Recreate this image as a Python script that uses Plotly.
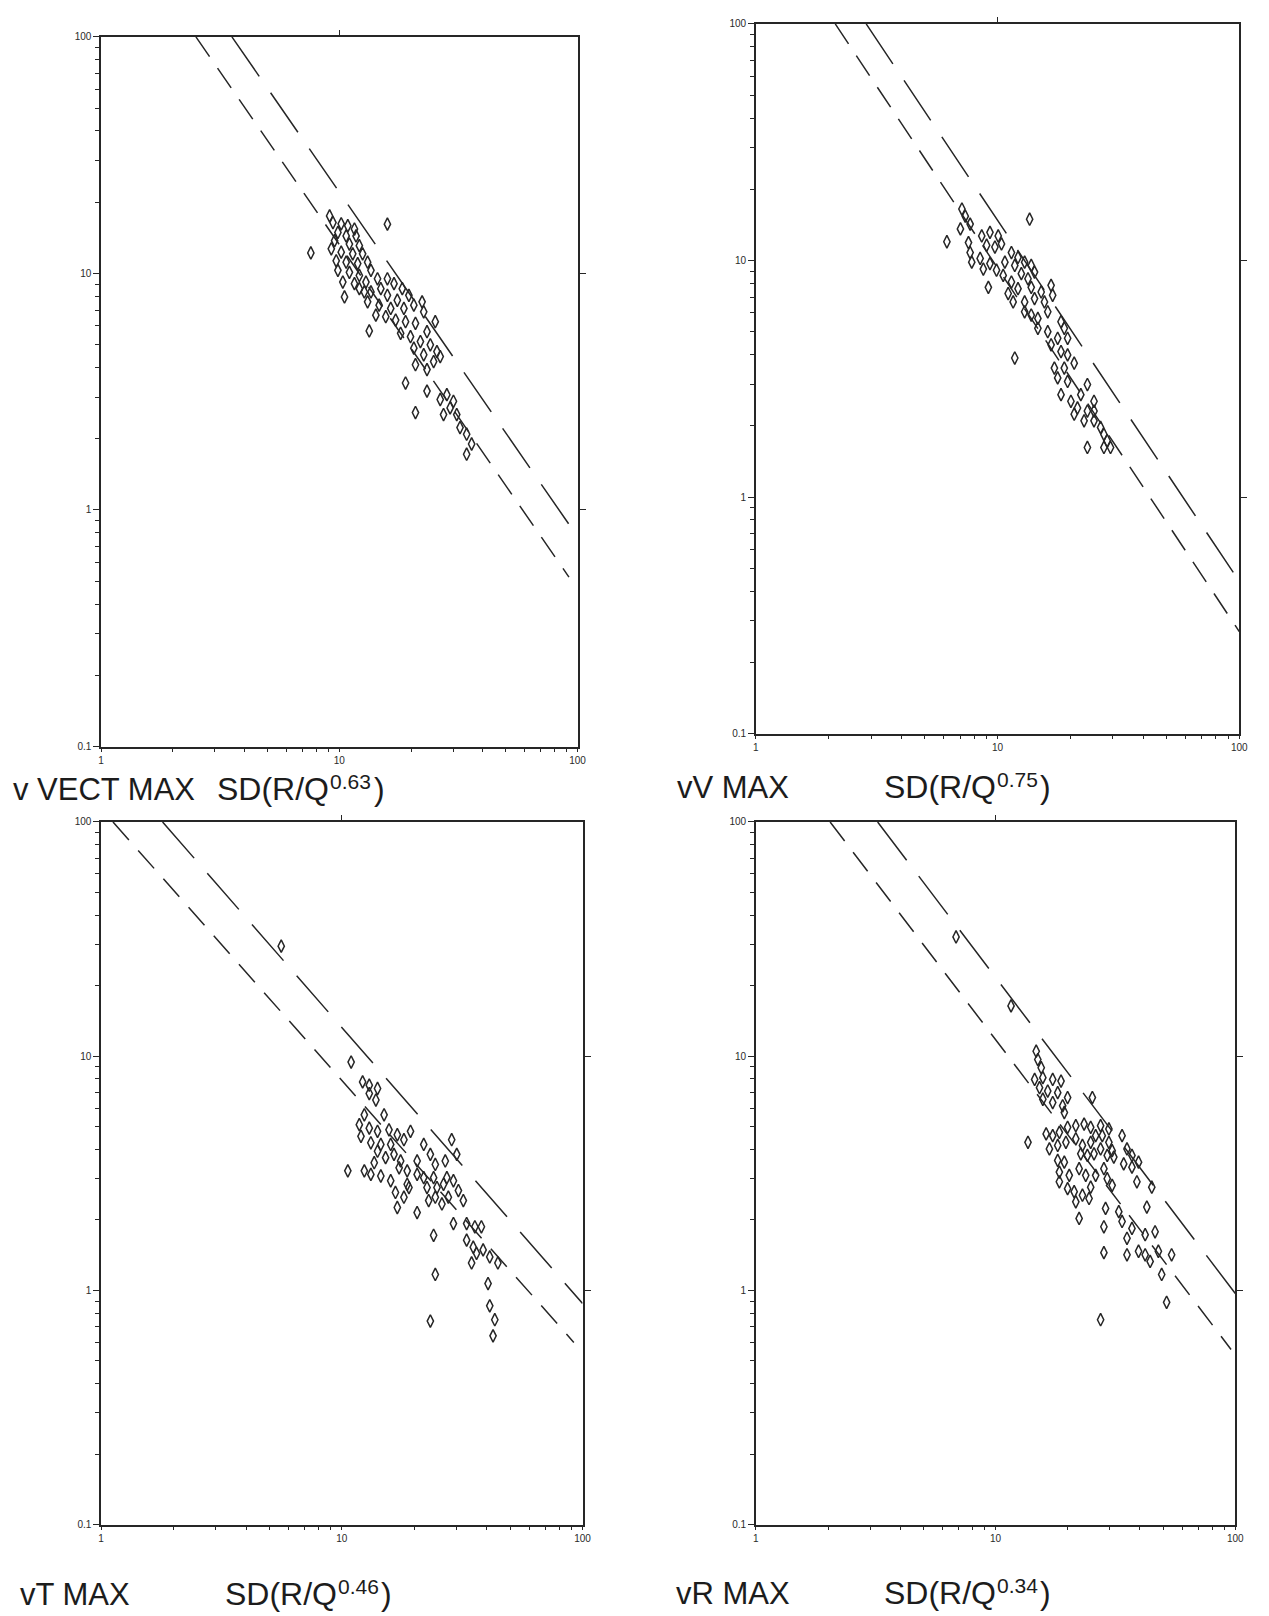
import plotly.graph_objects as go

W, H = 1269, 1616

# ---------------- data ----------------
# Panel 1 : v VECT MAX vs SD(R/Q^0.63)
vvect_sd = [9.10, 9.40, 10.18, 10.85, 11.57, 9.86, 10.68, 11.75, 9.55, 11.02,
            12.13, 9.25, 10.18, 11.38, 12.52, 9.70, 10.68, 11.94, 13.14, 9.86,
            11.02, 12.13, 13.57, 10.34, 11.57, 12.93, 14.46, 10.51, 12.13, 13.57,
            14.93, 15.91, 16.96, 18.37, 19.58, 15.91, 17.51, 13.14, 14.69, 16.43,
            18.66, 20.54, 22.25, 22.60, 15.66, 17.23, 18.96, 20.87, 23.33, 25.27,
            18.08, 19.89, 21.89, 24.09, 25.68, 20.54, 22.60, 24.87, 26.51, 20.87,
            23.33, 18.96, 23.33, 26.51, 28.26, 30.12, 29.17, 27.37, 31.10, 20.87,
            32.10, 34.22, 35.91, 34.22, 13.35, 7.59, 15.91, 14.23, 12.73]
vvect_v = [17.5, 16.4, 16.2, 15.9, 15.4, 14.9, 14.4, 14.4, 13.75, 13.3,
           13.1, 12.7, 12.3, 12.1, 12.1, 11.3, 11.15, 11.0, 11.15, 10.3,
           10.1, 9.8, 10.3, 9.19, 9.05, 9.19, 9.49, 7.95, 8.62, 8.35,
           8.62, 9.49, 9.05, 8.62, 8.08, 8.08, 7.70, 7.58, 7.34, 7.11,
           7.11, 7.34, 7.58, 6.88, 6.56, 6.35, 6.25, 6.15, 5.67, 6.25,
           5.58, 5.40, 5.15, 4.99, 4.67, 4.83, 4.53, 4.24, 4.45, 4.11,
           3.92, 3.44, 3.18, 2.93, 3.07, 2.88, 2.70, 2.53, 2.53, 2.58,
           2.23, 2.09, 1.90, 1.72, 5.71, 12.2, 16.15, 6.66, 8.35]
vvect_hi_x, vvect_hi_y = [3.54, 100], [100, 0.77]
vvect_lo_x, vvect_lo_y = [2.5, 92], [100, 0.52]

# Panel 2 : vV MAX vs SD(R/Q^0.75)
vv_sd = [13.57, 6.17, 7.12, 7.35, 7.70, 7.02, 7.58, 7.70, 7.82, 8.60,
         9.30, 10.06, 9.01, 9.75, 10.38, 8.47, 9.30, 8.73, 10.72, 9.16,
         9.90, 10.55, 11.41, 12.15, 12.94, 13.78, 11.78, 12.54, 13.36, 14.22,
         11.41, 11.06, 12.15, 13.78, 15.15, 16.65, 16.90, 11.60, 12.94, 14.22,
         15.63, 12.94, 13.78, 14.68, 16.13, 18.30, 18.88, 14.68, 16.13, 17.73,
         19.49, 16.65, 18.30, 19.49, 11.78, 17.18, 18.88, 20.75, 17.73, 19.49,
         18.30, 20.11, 22.10, 23.53, 21.41, 23.53, 25.06, 22.80, 25.06, 26.68,
         27.54, 28.41, 29.33, 27.54, 23.53, 25.06, 20.75]
vv_v = [14.95, 12.0, 16.5, 15.4, 14.25, 13.6, 11.9, 10.8, 9.84, 12.7,
        13.15, 12.7, 11.6, 11.4, 11.75, 10.2, 9.7, 9.2, 9.84, 7.7,
        9.1, 8.65, 10.8, 10.3, 9.84, 9.53, 9.53, 8.8, 8.37, 8.93,
        8.11, 7.25, 7.6, 7.7, 7.36, 7.85, 7.13, 6.68, 6.68, 6.9,
        6.68, 6.07, 5.88, 5.69, 6.07, 5.51, 5.17, 5.17, 5.0, 4.69,
        4.69, 4.40, 4.12, 3.99, 3.87, 3.51, 3.51, 3.68, 3.19, 3.08,
        2.71, 2.54, 2.71, 2.99, 2.38, 2.31, 2.54, 2.10, 2.10, 1.97,
        1.84, 1.73, 1.62, 1.62, 1.62, 2.31, 2.24]
vv_hi_x, vv_hi_y = [2.86, 100], [100, 0.44]
vv_lo_x, vv_lo_y = [2.13, 100], [100, 0.27]

# Panel 3 : vT MAX vs SD(R/Q^0.46)
vt_sd = [5.6, 10.93, 12.20, 13.0, 14.07, 13.0, 13.85, 14.98, 12.40, 11.82,
         13.0, 12.01, 14.07, 15.7, 17.0, 13.2, 14.52, 15.96, 18.11, 19.29,
         14.07, 15.2, 16.47, 17.55, 13.63, 10.59, 12.40, 13.20, 14.52, 15.96,
         17.3, 18.69, 20.55, 21.89, 23.32, 24.45, 26.9, 28.6, 30.02, 20.55,
         21.89, 19.0, 18.11, 17.0, 20.55, 22.59, 24.06, 24.85, 26.45, 27.31,
         29.08, 30.5, 22.95, 24.45, 26.05, 27.7, 31.97, 29.08, 33.0, 35.7,
         38.0, 33.0, 35.15, 36.28, 38.64, 34.6, 41.16, 44.5, 24.06, 24.45,
         40.5, 41.16, 43.2, 42.48, 23.32, 16.7, 18.69]
vt_v = [29.5, 9.44, 7.77, 7.52, 7.28, 6.93, 6.50, 5.62, 5.62, 5.10,
        4.93, 4.55, 4.78, 4.85, 4.62, 4.27, 4.20, 4.20, 4.40, 4.78,
        3.93, 3.69, 3.81, 3.57, 3.51, 3.24, 3.24, 3.13, 3.08, 2.94,
        3.34, 3.24, 3.57, 4.20, 3.81, 3.45, 3.57, 4.40, 3.81, 3.13,
        3.03, 2.75, 2.50, 2.26, 2.15, 2.75, 3.03, 2.75, 2.84, 3.03,
        2.94, 2.67, 2.42, 2.50, 2.34, 2.50, 2.42, 1.93, 1.93, 1.87,
        1.87, 1.64, 1.53, 1.44, 1.49, 1.31, 1.39, 1.31, 1.72, 1.17,
        1.07, 0.86, 0.75, 0.64, 0.74, 2.62, 2.84]
vt_hi_x, vt_hi_y = [1.8, 100], [100, 0.88]
vt_lo_x, vt_lo_y = [1.12, 92], [100, 0.60]

# Panel 4 : vR MAX vs SD(R/Q^0.34)
vr_sd = [6.84, 11.6, 14.77, 15.0, 15.5, 14.55, 15.74, 17.31, 18.75, 15.25,
         16.5, 18.16, 19.97, 15.74, 17.31, 19.04, 19.35, 25.33, 13.65, 16.25,
         17.31, 18.45, 19.97, 21.61, 23.4, 24.93, 27.42, 29.69, 16.77, 18.16,
         19.65, 21.61, 23.03, 24.93, 26.15, 27.86, 29.69, 30.64, 27.42, 29.22,
         31.13, 25.74, 24.15, 22.67, 18.16, 19.35, 18.45, 20.29, 22.31, 23.77,
         18.45, 19.97, 21.27, 23.03, 24.93, 21.61, 22.31, 24.54, 26.15, 28.3,
         29.22, 30.64, 33.70, 35.33, 37.06, 39.48, 34.23, 37.06, 38.86, 44.83,
         42.75, 28.76, 28.3, 32.65, 33.70, 35.33, 37.06, 42.07, 46.27, 39.48,
         42.07, 44.13, 47.76, 54.23, 35.33, 28.3, 49.3, 51.7, 27.42]
vr_v = [32.3, 16.4, 10.5, 9.68, 8.93, 7.96, 8.1, 7.96, 7.83, 7.34,
        7.1, 6.99, 6.66, 6.55, 6.34, 6.14, 5.75, 6.66, 4.29, 4.66,
        4.58, 4.73, 4.97, 5.05, 5.13, 4.97, 5.05, 4.89, 4.02, 4.16,
        4.29, 4.44, 4.16, 4.29, 4.58, 4.58, 4.29, 3.95, 4.02, 3.77,
        3.71, 3.83, 3.77, 3.83, 3.59, 3.53, 3.20, 3.10, 3.31, 3.10,
        2.91, 2.72, 2.64, 2.55, 2.76, 2.39, 2.03, 2.47, 3.10, 3.31,
        3.00, 2.81, 4.58, 4.02, 3.77, 3.53, 3.47, 3.36, 2.91, 2.76,
        2.27, 2.24, 1.87, 2.17, 1.97, 1.67, 1.84, 1.73, 1.78, 1.47,
        1.42, 1.33, 1.47, 1.42, 1.42, 1.45, 1.17, 0.89, 0.75]
vr_hi_x, vr_hi_y = [3.22, 100], [100, 0.97]
vr_lo_x, vr_lo_y = [2.04, 96], [100, 0.56]

x_ticks = [1, 10, 100]
x_ticktext = ["1", "10", "100"]
y_ticks = [0.1, 1, 10, 100]
y_ticktext = ["0.1", "1", "10", "100"]
x_minor = [m * d for d in (1, 10) for m in range(2, 10)]
y_minor = [m * d for d in (0.1, 1, 10) for m in range(2, 10)]
top_ticks = [10]
right_ticks = [1, 10]

panels = [
    dict(sd=vvect_sd, v=vvect_v, hx=vvect_hi_x, hy=vvect_hi_y, lx=vvect_lo_x, ly=vvect_lo_y,
         name="v VECT MAX", exp="0.63", box=(91, 572, 23, 738), lab=(0, 206, 781)),
    dict(sd=vv_sd, v=vv_v, hx=vv_hi_x, hy=vv_hi_y, lx=vv_lo_x, ly=vv_lo_y,
         name="vV MAX", exp="0.75", box=(752, 1240, 10, 725), lab=(670, 879, 779)),
    dict(sd=vt_sd, v=vt_v, hx=vt_hi_x, hy=vt_hi_y, lx=vt_lo_x, ly=vt_lo_y,
         name="vT MAX", exp="0.46", box=(91, 577, 814, 1522), lab=(7, 214, 1592)),
    dict(sd=vr_sd, v=vr_v, hx=vr_hi_x, hy=vr_hi_y, lx=vr_lo_x, ly=vr_lo_y,
         name="vR MAX", exp="0.34", box=(752, 1236, 814, 1522), lab=(669, 879, 1591)),
]

INK = "#262626"
TXT = "#1c1c1c"
FONT = "Liberation Sans"
MAIN = 31
SUPF = 21

fig = go.Figure()
layout = dict(width=W, height=H, margin=dict(l=0, r=0, t=0, b=0),
              paper_bgcolor="white", plot_bgcolor="white", showlegend=False,
              annotations=[])

for i, p in enumerate(panels, start=1):
    sfx = "" if i == 1 else str(i)
    xr, yr = "x" + sfx, "y" + sfx
    xo, yo = "x" + str(i + 4), "y" + str(i + 4)
    fig.add_trace(go.Scatter(x=p["hx"], y=p["hy"], mode="lines", xaxis=xr, yaxis=yr,
                             line=dict(color=INK, width=1.5, dash="48px,20px"),
                             hoverinfo="skip"))
    fig.add_trace(go.Scatter(x=p["lx"], y=p["ly"], mode="lines", xaxis=xr, yaxis=yr,
                             line=dict(color=INK, width=1.5, dash="24px,14px"),
                             hoverinfo="skip"))
    fig.add_trace(go.Scatter(x=p["sd"], y=p["v"], mode="markers", xaxis=xr, yaxis=yr,
                             marker=dict(symbol="diamond-tall-open", size=9,
                                         color=INK, line=dict(width=1.5, color=INK))))
    # empty traces that only carry the top / right tick axes
    fig.add_trace(go.Scatter(x=[], y=[], xaxis=xo, yaxis=yr, hoverinfo="skip"))
    fig.add_trace(go.Scatter(x=[], y=[], xaxis=xr, yaxis=yo, hoverinfo="skip"))

    x0, x1, y0, y1 = p["box"]
    common = dict(showgrid=False, zeroline=False, showline=True, linecolor=INK,
                  linewidth=1.5, mirror=True, ticks="outside",
                  tickwidth=1.3, tickcolor=INK,
                  tickfont=dict(size=10, family=FONT, color="#2a2a2a"))
    layout["xaxis" + sfx] = dict(type="log", range=[0, 2], domain=[x0 / W, x1 / W],
                                 anchor=yr, tickvals=x_ticks, ticktext=x_ticktext, ticklen=4,
                                 minor=dict(tickvals=x_minor, ticks="outside", ticklen=4,
                                            tickwidth=1, tickcolor=INK, showgrid=False),
                                 **common)
    layout["yaxis" + sfx] = dict(type="log", range=[-1, 2],
                                 domain=[1 - y1 / H, 1 - y0 / H], ticklen=6,
                                 anchor=xr, tickvals=y_ticks, ticktext=y_ticktext,
                                 minor=dict(tickvals=y_minor, ticks="outside", ticklen=4,
                                            tickwidth=1, tickcolor=INK, showgrid=False),
                                 **common)
    layout["xaxis" + str(i + 4)] = dict(type="log", range=[0, 2], overlaying=xr,
                                        side="top", anchor=yr, showgrid=False,
                                        zeroline=False, showline=False,
                                        tickvals=top_ticks, ticks="outside", ticklen=6,
                                        tickwidth=1.3, tickcolor=INK, showticklabels=False)
    layout["yaxis" + str(i + 4)] = dict(type="log", range=[-1, 2], overlaying=yr,
                                        side="right", anchor=xr, showgrid=False,
                                        zeroline=False, showline=False,
                                        tickvals=right_ticks, ticks="outside", ticklen=7,
                                        tickwidth=1.3, tickcolor=INK, showticklabels=False)

    nx, sx, ty = p["lab"]
    base = dict(xref="paper", yref="paper", xanchor="left", yanchor="middle",
                showarrow=False)
    layout["annotations"].append(dict(
        text=p["name"], x=nx / W, y=1 - ty / H,
        font=dict(size=MAIN, family=FONT, color=TXT), **base))
    layout["annotations"].append(dict(
        text="SD(R/Q", x=sx / W, y=1 - ty / H,
        font=dict(size=MAIN + 1, family=FONT, color=TXT), **base))
    layout["annotations"].append(dict(
        text=p["exp"], x=(sx + 114) / W, y=1 - (ty - 8) / H,
        font=dict(size=SUPF, family=FONT, color=TXT), **base))
    layout["annotations"].append(dict(
        text=")", x=(sx + 158) / W, y=1 - ty / H,
        font=dict(size=MAIN + 1, family=FONT, color=TXT), **base))

fig.update_layout(**layout)
fig.write_html("out.html")
